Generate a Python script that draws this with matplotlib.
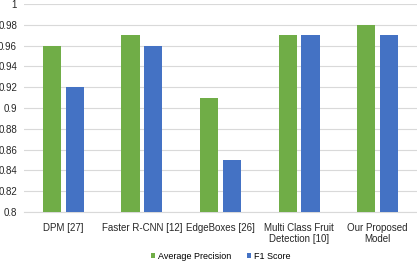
import numpy as np
from matplotlib import pyplot as plt

plt.rcParams['font.family'] = ['Liberation Sans', 'DejaVu Sans']

categories = ['DPM [27]', 'Faster R-CNN [12]', 'EdgeBoxes [26]',
              'Multi Class Fruit\nDetection [10]', 'Our Proposed\nModel']
avg_precision = [0.96, 0.97, 0.91, 0.97, 0.98]
f1_score = [0.92, 0.96, 0.85, 0.97, 0.97]
yticks = [0.8, 0.82, 0.84, 0.86, 0.88, 0.9, 0.92, 0.94, 0.96, 0.98, 1.0]
ytick_labels = ['0.8', '0.82', '0.84', '0.86', '0.88', '0.9', '0.92', '0.94',
                '0.96', '0.98', '1']

green = '#70AD47'
blue = '#4472C4'

fig = plt.figure(figsize=(4.17, 2.62), dpi=100)
ax = fig.add_axes([24 / 417, 1 - 212 / 262, 1 - 24 / 417, 208 / 262])

x = np.arange(len(categories))
w = 0.23
ax.bar(x - 0.145, avg_precision, w, color=green, label='Average Precision', zorder=3)
ax.bar(x + 0.145, f1_score, w, color=blue, label='F1 Score', zorder=3)

ax.set_xlim(-0.5, len(categories) - 0.5)
ax.set_ylim(0.8, 1.0)
ax.set_yticks(yticks)
ax.set_yticklabels(ytick_labels, fontsize=7, color='#262626')
ax.set_xticks(x)
ax.set_xticklabels(categories, fontsize=7, color='#262626', linespacing=1.15)
ax.tick_params(axis='y', length=0, pad=5)
ax.tick_params(axis='x', length=0, pad=8)
ax.grid(axis='y', color='#d9d9d9', lw=0.8, zorder=0)
for s in ['top', 'right', 'left']:
    ax.spines[s].set_visible(False)
ax.spines['bottom'].set_color('#d9d9d9')

ax.legend(loc='center', bbox_to_anchor=(0.5, -0.212), ncol=2, frameon=False,
          fontsize=6.5, handlelength=0.45, handleheight=0.45, columnspacing=1.8,
          handletextpad=0.3)

fig.savefig('out.png', dpi=100)
